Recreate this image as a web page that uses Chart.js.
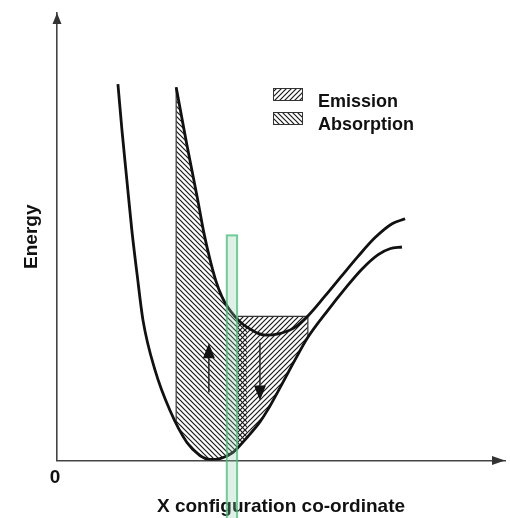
<!DOCTYPE html>
<html>
<head>
<meta charset="utf-8">
<script src="https://cdn.jsdelivr.net/npm/chart.js@4.4.1/dist/chart.umd.min.js"></script>
<style>
  html, body { margin: 0; padding: 0; background: #fff; }
  canvas { display: block; }
</style>
</head>
<body>
<canvas id="chart" width="510" height="518"></canvas>
<script>
// Configuration coordinate diagram (axes 0..100)
const groundX = [13.6, 14.5, 15.6, 16.7, 17.9, 19.2, 21.9, 25.2, 29.0, 31.9, 34.2, 36.4, 39.3, 42.4, 45.3, 47.1, 50.4, 53.1, 56.0, 60.5, 64.3, 68.1, 71.7, 74.3, 77.0];
const groundY = [84.1, 73.8, 62.6, 51.5, 41.4, 31.3, 20.1, 11.2, 4.0, 1.1, 0.2, 0.4, 1.8, 5.1, 8.6, 11.4, 17.4, 22.4, 27.5, 33.6, 38.4, 42.8, 46.0, 47.3, 47.7];

const excitedX = [26.6, 29.0, 31.3, 32.8, 34.2, 35.5, 36.8, 38.2, 39.7, 41.3, 42.4, 44.9, 46.7, 49.1, 52.7, 56.0, 59.8, 63.6, 67.2, 71.0, 74.8, 77.7];
const excitedY = [83.4, 70.5, 58.8, 50.8, 44.7, 40.0, 36.6, 34.1, 32.2, 30.6, 29.8, 28.4, 28.0, 28.2, 29.5, 32.3, 36.7, 41.3, 45.6, 49.8, 52.9, 54.0];

// hatched regions
const absorptionRange = [26.6, 42.4];
const emissionRange = [40.4, 56.0];
const emissionLevel = 32.2;
// thin vertical edges: [x, yFrom, yTo]
const edgeLines = [[26.6, 8.7, 83.4], [56.0, 27.5, 32.2]];

// transition arrows
const arrowX = [33.9, 45.3];
const arrowFrom = [15.2, 26.4];
const arrowTo = [26.2, 13.4];

// highlighted column [xLeft, xRight], top
const bandX = [37.9, 40.2];
const bandTop = 50.3;

const legendLabels = ['Emission', 'Absorption'];

Chart.defaults.font.family = "'Liberation Sans', Arial, sans-serif";
Chart.defaults.color = '#111';

function hatch(dir) {
    const s = 5;
    const c = document.createElement('canvas');
    c.width = s; c.height = s;
    const g = c.getContext('2d');
    g.strokeStyle = '#1a1a1a';
    g.lineWidth = 1.2;
    g.beginPath();
    if (dir === '/') {
        g.moveTo(0, s); g.lineTo(s, 0);
        g.moveTo(-1, 1); g.lineTo(1, -1);
        g.moveTo(s - 1, s + 1); g.lineTo(s + 1, s - 1);
    } else {
        g.moveTo(0, 0); g.lineTo(s, s);
        g.moveTo(-1, s - 1); g.lineTo(1, s + 1);
        g.moveTo(s - 1, -1); g.lineTo(s + 1, 1);
    }
    g.stroke();
    return g.createPattern(c, 'repeat');
}

const emissionPattern = hatch('/');
const absorptionPattern = hatch('\\');

const pts = (xs, ys) => xs.map((x, i) => ({ x: x, y: ys[i] }));

const absorptionData = pts(excitedX, excitedY).filter(p => p.x >= absorptionRange[0] && p.x <= absorptionRange[1]);
const emissionData = emissionRange.map(x => ({ x: x, y: emissionLevel }));

const edgeSets = edgeLines.map(e => ({
    label: 'edge',
    data: [{ x: e[0], y: e[1] }, { x: e[0], y: e[2] }],
    borderColor: '#333',
    borderWidth: 1.2,
    fill: false,
    order: 1
}));

const overlay = {
    id: 'overlay',
    afterDatasetsDraw(chart) {
        const { ctx, scales: { x, y } } = chart;
        ctx.save();

        // arrows
        ctx.strokeStyle = '#222';
        ctx.fillStyle = '#111';
        ctx.lineWidth = 1.5;
        arrowX.forEach((ax, i) => {
            const px = x.getPixelForValue(ax);
            const y0 = y.getPixelForValue(arrowFrom[i]);
            const y1 = y.getPixelForValue(arrowTo[i]);
            const dir = y1 < y0 ? -1 : 1;
            const head = 15;
            ctx.beginPath();
            ctx.moveTo(px, y0);
            ctx.lineTo(px, y1 - dir * head);
            ctx.stroke();
            ctx.beginPath();
            ctx.moveTo(px, y1);
            ctx.lineTo(px - 6, y1 - dir * head);
            ctx.lineTo(px + 6, y1 - dir * head);
            ctx.closePath();
            ctx.fill();
        });

        // green highlighted column
        const bx0 = x.getPixelForValue(bandX[0]);
        const bx1 = x.getPixelForValue(bandX[1]);
        const by = y.getPixelForValue(bandTop);
        ctx.fillStyle = 'rgba(140, 200, 165, 0.28)';
        ctx.fillRect(bx0, by, bx1 - bx0, chart.height - by + 4);
        ctx.strokeStyle = 'rgba(70, 190, 120, 0.75)';
        ctx.lineWidth = 2;
        ctx.strokeRect(bx0, by, bx1 - bx0, chart.height - by + 4);
        ctx.restore();
    },
    afterDraw(chart) {
        const { ctx, chartArea: a } = chart;
        ctx.save();
        // axis arrow heads
        ctx.fillStyle = '#333';
        ctx.beginPath();
        ctx.moveTo(a.left, a.top);
        ctx.lineTo(a.left - 4.5, a.top + 11);
        ctx.lineTo(a.left + 4.5, a.top + 11);
        ctx.closePath();
        ctx.fill();
        ctx.beginPath();
        ctx.moveTo(a.right, a.bottom);
        ctx.lineTo(a.right - 13, a.bottom - 4.5);
        ctx.lineTo(a.right - 13, a.bottom + 4.5);
        ctx.closePath();
        ctx.fill();

        // legend with hatched boxes
        const patterns = [emissionPattern, absorptionPattern];
        ctx.font = "bold 18px 'Liberation Sans', Arial, sans-serif";
        ctx.textBaseline = 'alphabetic';
        legendLabels.forEach((label, i) => {
            const bx = a.left + 216;
            const by = a.top + 75 + i * 24;
            ctx.fillStyle = '#fff';
            ctx.fillRect(bx, by, 30, 13);
            ctx.fillStyle = patterns[i];
            ctx.fillRect(bx, by, 30, 13);
            ctx.strokeStyle = '#333';
            ctx.lineWidth = 1;
            ctx.strokeRect(bx + 0.5, by + 0.5, 29, 12);
            ctx.fillStyle = '#111';
            ctx.fillText(label, bx + 45, by + 19 - i * 1.5);
        });
        ctx.restore();
    }
};

new Chart(document.getElementById('chart'), {
    type: 'line',
    data: {
        datasets: [
            {
                label: 'Excited state',
                data: pts(excitedX, excitedY),
                borderColor: '#111',
                borderWidth: 2.8,
                fill: false,
                cubicInterpolationMode: 'monotone',
                order: 0
            },
            {
                label: 'Ground state',
                data: pts(groundX, groundY),
                borderColor: '#111',
                borderWidth: 2.8,
                fill: false,
                cubicInterpolationMode: 'monotone',
                order: 0
            },
            {
                label: legendLabels[1],
                data: absorptionData,
                borderWidth: 0,
                borderColor: 'rgba(0,0,0,0)',
                backgroundColor: absorptionPattern,
                fill: 1,
                cubicInterpolationMode: 'monotone',
                order: 2
            },
            {
                label: legendLabels[0],
                data: emissionData,
                borderWidth: 1.2,
                borderColor: '#333',
                backgroundColor: emissionPattern,
                fill: 1,
                order: 2
            },
            ...edgeSets
        ]
    },
    options: {
        responsive: false,
        animation: false,
        devicePixelRatio: 1,
        layout: { padding: { left: 0, top: 13, right: 5, bottom: 0 } },
        elements: { point: { radius: 0, hoverRadius: 0 } },
        plugins: {
            legend: { display: false },
            tooltip: { enabled: false }
        },
        scales: {
            x: {
                type: 'linear',
                min: 0,
                max: 100,
                grid: { display: false, drawTicks: false },
                border: { display: true, color: '#444', width: 1.6 },
                afterBuildTicks: s => { s.ticks = [{ value: 0 }]; },
                ticks: {
                    padding: 6,
                    labelOffset: -2,
                    font: { size: 19, weight: 'bold' },
                    callback: v => (v === 0 ? '0' : '')
                },
                title: {
                    display: true,
                    text: 'X configuration co-ordinate',
                    font: { size: 19, weight: 'bold' },
                    padding: { top: 0, bottom: 0 }
                }
            },
            y: {
                min: 0,
                max: 100,
                grid: { display: false, drawTicks: false },
                border: { display: true, color: '#444', width: 1.6 },
                ticks: { display: false },
                title: {
                    display: true,
                    text: 'Energy',
                    font: { size: 19, weight: 'bold' },
                    padding: { top: 20.6, bottom: 13.6 }
                }
            }
        }
    },
    plugins: [overlay]
});
</script>
</body>
</html>
